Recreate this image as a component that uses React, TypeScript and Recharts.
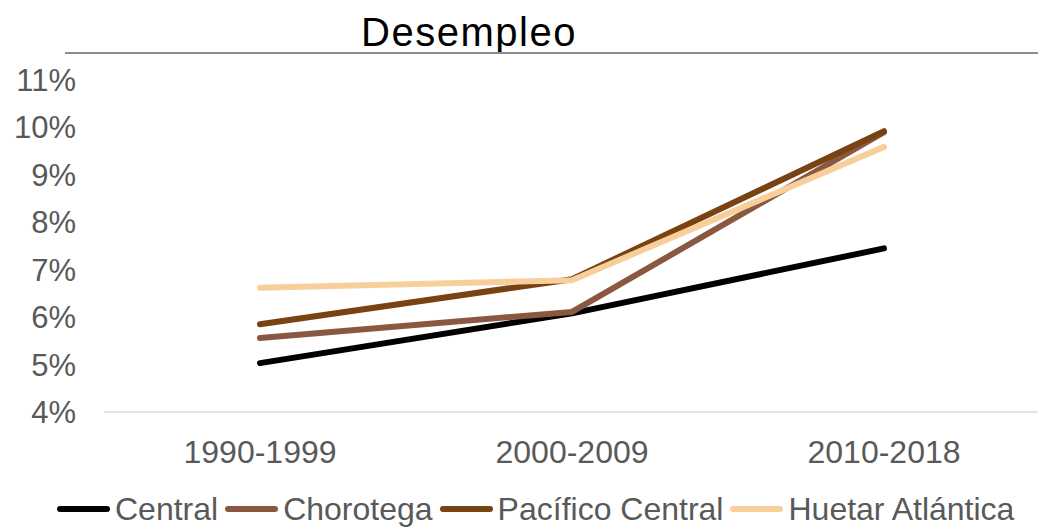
import React from 'react';
import { LineChart, Line, XAxis, YAxis, Legend } from 'recharts';

const categories = ['1990-1999', '2000-2009', '2010-2018'];
const central = [5.03, 6.08, 7.45];
const chorotega = [5.56, 6.11, 9.9];
const pacificoCentral = [5.85, 6.8, 9.92];
const huetarAtlantica = [6.62, 6.78, 9.59];
const yTicks = [4, 5, 6, 7, 8, 9, 10, 11];

const seriesNames = ['Central', 'Chorotega', 'Pacífico Central', 'Huetar Atlántica'];
const seriesKeys = ['central', 'chorotega', 'pacifico', 'huetar'];
const seriesColors = ['#000000', '#8a5841', '#784212', '#f8cf9a'];

const data = categories.map((c, i) => ({
  cat: c,
  central: central[i],
  chorotega: chorotega[i],
  pacifico: pacificoCentral[i],
  huetar: huetarAtlantica[i],
}));

const FONT = '"Liberation Sans", Arial, sans-serif';

const renderLegend = () => {
  return (
    <div style={{ height: 50, position: 'relative', overflow: 'visible' }}>
      <div style={{ position: 'absolute', left: 57, top: 14, display: 'flex', alignItems: 'center', fontFamily: FONT, fontSize: 32, color: '#595959', lineHeight: '36px', whiteSpace: 'nowrap' }}>
        {seriesNames.map((name, i) => (
          <div key={name} style={{ display: 'flex', alignItems: 'center', marginRight: 7 }}>
            <svg width={53} height={10} style={{ marginRight: 5 }}>
              <line x1={3} y1={5} x2={50} y2={5} stroke={seriesColors[i]} strokeWidth={6} strokeLinecap="round" />
            </svg>
            <span>{name}</span>
          </div>
        ))}
      </div>
    </div>
  );
};

export default function App() {
  return (
    <div style={{ position: 'fixed', left: 0, top: 0, width: 1038, height: 527, background: '#fff', overflow: 'hidden' }}>
      <div style={{ position: 'absolute', left: 0, top: 9, width: 938, textAlign: 'center', fontFamily: FONT, fontSize: 40, letterSpacing: 1.5, color: '#000', lineHeight: '46px' }}>
        Desempleo
      </div>
      <div style={{ position: 'absolute', left: 65, top: 52, width: 980, height: 2, background: '#8c8c8c' }} />
      <LineChart width={1040} height={527} data={data} margin={{ top: 80, right: 0, bottom: 0, left: 0 }}>
        <XAxis
          dataKey="cat"
          height={65}
          padding={{ left: 156, right: 156 }}
          tickLine={false}
          tickSize={0}
          tickMargin={28}
          axisLine={{ stroke: '#d9d9d9', strokeWidth: 1.5 }}
          tick={{ fill: '#595959', fontSize: 32, fontFamily: FONT }}
        />
        <YAxis
          width={104}
          domain={[4, 11]}
          ticks={yTicks}
          interval={0}
          axisLine={false}
          tickLine={false}
          tickSize={0}
          tickMargin={28}
          tickFormatter={(v: number) => `${v}%`}
          tick={{ fill: '#595959', fontSize: 31, fontFamily: FONT }}
        />
        <Legend verticalAlign="bottom" content={renderLegend} wrapperStyle={{ height: 50 }} />
        {seriesKeys.map((k, i) => (
          <Line
            key={k}
            dataKey={k}
            name={seriesNames[i]}
            stroke={seriesColors[i]}
            strokeWidth={6}
            strokeLinecap="round"
            strokeLinejoin="round"
            dot={false}
            activeDot={false}
            isAnimationActive={false}
          />
        ))}
      </LineChart>
    </div>
  );
}
